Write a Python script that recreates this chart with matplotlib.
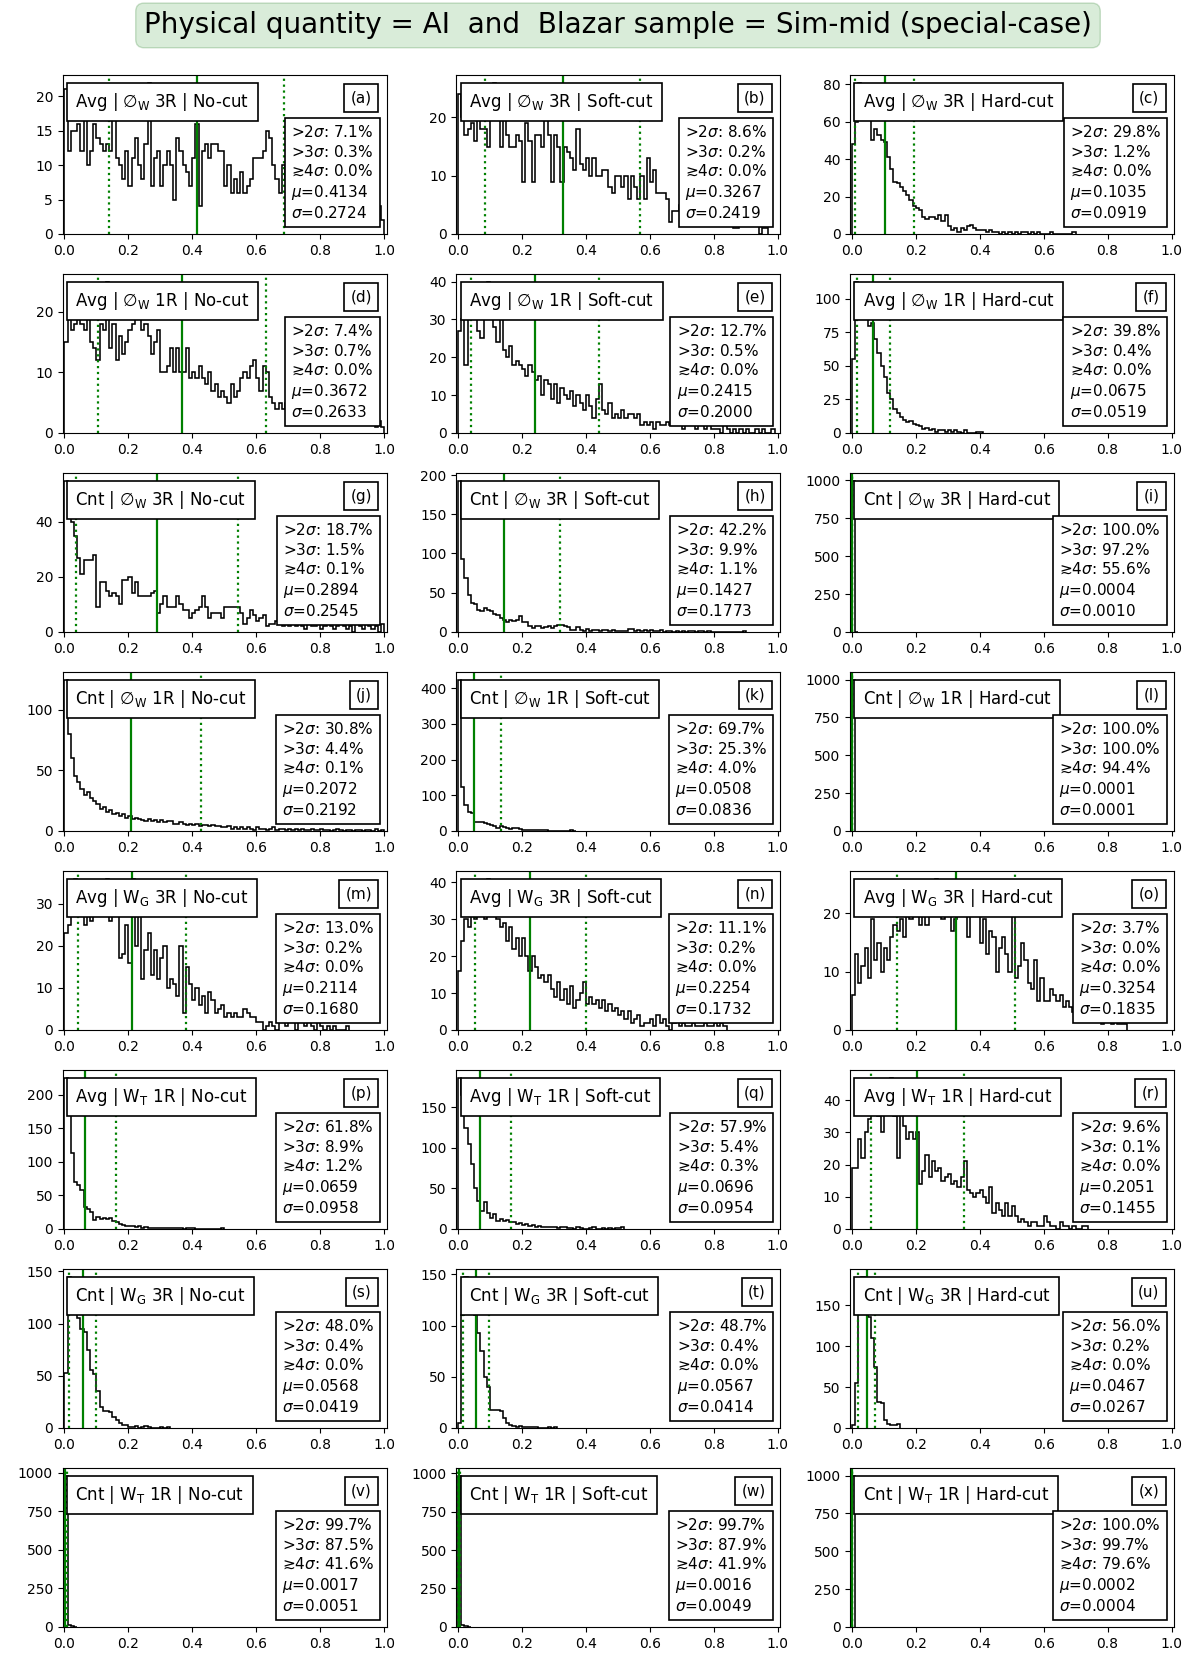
import numpy as np
import matplotlib
matplotlib.use("Agg")
import matplotlib.pyplot as plt

# bin counts per panel, bin width 0.01 starting at 0 (trailing empty bins left out)
counts_a = [21, 12, 15, 15, 16, 12, 18, 10, 12, 16, 14, 13, 12, 13, 12, 17, 11, 10, 8, 12,
            7, 11, 14, 10, 8, 13, 22, 7, 11, 12, 7, 10, 12, 10, 5, 14, 12, 10, 9, 7,
            11, 16, 4, 12, 13, 11, 13, 13, 12, 12, 7, 10, 6, 8, 6, 9, 6, 7, 8, 11,
            11, 11, 12, 15, 14, 10, 8, 6, 10, 8, 7, 9, 6, 8, 7, 9, 8, 6, 7, 8,
            6, 7, 5, 8, 6, 7, 5, 6, 7, 5, 6, 5, 7, 6, 5, 7, 6, 5, 4, 2]
counts_b = [24, 20, 17, 18, 19, 16, 21, 18, 18, 15, 21, 26, 21, 15, 20, 17, 15, 15, 17, 16,
            9, 19, 16, 9, 17, 17, 15, 20, 17, 9, 17, 15, 9, 15, 14, 13, 11, 18, 12, 11,
            13, 10, 13, 10, 10, 11, 11, 8, 7, 10, 10, 8, 10, 6, 10, 8, 6, 10, 6, 13,
            9, 11, 7, 7, 7, 6, 2, 4, 4, 5, 4, 3, 5, 4, 3, 4, 3, 5, 6, 2,
            3, 2, 3, 2, 3, 2, 1, 1, 3, 3, 2, 3, 2, 3, 0, 1, 1]
counts_c = [48, 60, 81, 75, 70, 65, 50, 56, 53, 50, 49, 41, 35, 28, 27, 25, 23, 21, 18, 15,
            14, 13, 9, 8, 9, 9, 8, 10, 7, 10, 4, 2, 3, 1, 3, 2, 4, 5, 3, 2,
            2, 2, 1, 2, 1, 1, 0, 1, 0, 1, 0, 1, 0, 1, 1, 0, 1, 0, 1, 0,
            0, 0, 1, 0, 0, 0, 0, 0, 0, 1]
counts_d = [15, 19, 17, 18, 20, 18, 17, 20, 15, 14, 12, 18, 17, 25, 14, 18, 12, 16, 13, 15,
            17, 18, 19, 20, 17, 18, 16, 13, 15, 17, 10, 10, 11, 14, 10, 14, 10, 10, 14, 9,
            10, 9, 11, 9, 8, 10, 7, 8, 6, 7, 6, 5, 8, 6, 7, 9, 10, 9, 11, 12,
            9, 7, 11, 10, 6, 5, 4, 5, 4, 5, 3, 4, 4, 3, 5, 3, 4, 3, 4, 3,
            3, 4, 2, 3, 3, 2, 3, 3, 2, 3, 2, 2, 3, 2, 2, 2, 2, 1, 2, 1]
counts_e = [27, 30, 18, 30, 33, 30, 27, 25, 30, 40, 30, 28, 24, 30, 22, 20, 23, 18, 19, 18,
            17, 15, 18, 16, 14, 15, 10, 14, 13, 9, 13, 8, 12, 10, 9, 11, 7, 10, 8, 6,
            10, 7, 4, 9, 13, 6, 5, 8, 4, 5, 4, 6, 4, 5, 5, 4, 5, 2, 3, 2,
            3, 1, 3, 2, 2, 3, 2, 2, 3, 2, 1, 2, 2, 3, 1, 2, 2, 1, 2, 1,
            1, 1, 0, 2, 1, 0, 1, 0, 1, 0, 1, 0, 0, 1, 0, 1, 0, 0, 1]
counts_f = [55, 113, 110, 95, 85, 80, 82, 70, 60, 50, 42, 30, 25, 18, 15, 12, 10, 8, 9, 7,
            6, 5, 3, 4, 2, 3, 1, 2, 2, 1, 2, 1, 2, 1, 0, 2, 0, 0, 0, 1, 1]
counts_g = [55, 45, 40, 35, 27, 21, 26, 26, 26, 28, 9, 18, 18, 15, 13, 14, 13, 10, 19, 19,
            20, 14, 18, 13, 13, 13, 13, 14, 15, 7, 10, 13, 9, 9, 9, 13, 10, 8, 8, 5,
            7, 8, 9, 13, 9, 5, 7, 7, 7, 5, 9, 9, 9, 9, 9, 7, 3, 5, 8, 6,
            4, 5, 6, 2, 3, 3, 4, 3, 2, 3, 2, 3, 2, 3, 2, 1, 3, 2, 2, 3,
            1, 2, 3, 2, 1, 2, 3, 2, 1, 2, 0, 3, 2, 1, 3, 2, 1, 2, 0, 3]
counts_h = [193, 93, 69, 47, 37, 35, 28, 27, 30, 28, 27, 23, 22, 18, 15, 13, 15, 14, 15, 20,
            13, 13, 8, 5, 7, 7, 5, 6, 7, 5, 8, 9, 9, 8, 6, 3, 2, 6, 2, 1,
            4, 1, 2, 2, 1, 2, 2, 1, 2, 1, 1, 1, 1, 4, 4, 1, 3, 1, 2, 1,
            2, 1, 1, 2, 0, 1, 1, 0, 1, 0, 1, 0, 1, 1, 0, 1, 1, 0, 1, 0,
            0, 0, 0, 0, 0, 0, 0, 0, 0, 1]
counts_i = [999, 1]
counts_j = [125, 80, 60, 45, 40, 35, 30, 32, 27, 25, 22, 18, 20, 16, 17, 14, 15, 12, 14, 11,
            12, 10, 11, 10, 9, 8, 10, 8, 9, 7, 9, 7, 8, 8, 6, 6, 7, 6, 5, 6,
            5, 6, 4, 5, 5, 4, 5, 4, 4, 3, 3, 4, 2, 3, 2, 3, 2, 3, 2, 1,
            3, 2, 2, 1, 2, 3, 1, 2, 2, 1, 2, 1, 2, 1, 2, 1, 1, 2, 1, 1,
            2, 1, 1, 0, 1, 2, 1, 0, 1, 1, 0, 1, 1, 0, 1, 1, 0, 2, 0, 1]
counts_k = [424, 124, 74, 52, 50, 24, 24, 24, 22, 20, 18, 14, 8, 13, 10, 8, 5, 7, 8, 6,
            3, 3, 2, 3, 2, 2, 2, 3, 1, 1, 0, 1, 0, 0, 0, 2, 1]
counts_l = [1000]
counts_m = [23, 25, 30, 36, 30, 27, 25, 28, 26, 30, 27, 29, 27, 36, 26, 35, 29, 17, 18, 25,
            16, 36, 20, 30, 12, 19, 23, 13, 19, 12, 17, 20, 10, 12, 11, 8, 20, 4, 15, 11,
            7, 10, 6, 8, 4, 9, 7, 4, 5, 6, 3, 4, 3, 4, 3, 3, 5, 4, 3, 3,
            2, 2, 0, 1, 2, 1, 0, 2, 3, 1, 2, 3, 0, 3, 2, 1, 3, 1, 0, 2,
            1, 0, 1, 0, 1, 0, 0, 0, 1]
counts_n = [16, 24, 30, 28, 33, 30, 40, 35, 30, 41, 33, 31, 30, 28, 29, 24, 28, 22, 25, 20,
            25, 20, 16, 20, 17, 14, 15, 13, 15, 11, 9, 13, 8, 11, 7, 12, 6, 8, 10, 13,
            7, 9, 7, 8, 6, 8, 5, 7, 5, 6, 4, 5, 3, 5, 2, 3, 4, 1, 2, 2,
            3, 1, 4, 2, 3, 1, 0, 2, 3, 1, 2, 1, 1, 2, 1, 1, 1, 2, 1, 1,
            2, 1, 2, 1]
counts_o = [6, 13, 8, 11, 14, 9, 19, 12, 15, 10, 14, 12, 16, 18, 17, 19, 16, 22, 19, 20,
            24, 18, 22, 18, 20, 22, 26, 20, 19, 24, 21, 17, 19, 20, 21, 20, 16, 20, 25, 20,
            15, 19, 13, 17, 16, 10, 14, 16, 13, 10, 20, 9, 11, 15, 12, 8, 7, 12, 5, 9,
            5, 5, 7, 6, 5, 6, 4, 5, 4, 3, 5, 2, 4, 3, 2, 3, 2, 3, 1, 2,
            2, 1, 2, 1, 1, 1]
counts_p = [226, 170, 114, 70, 65, 58, 32, 30, 26, 13, 18, 15, 16, 15, 16, 12, 10, 7, 6, 5,
            4, 5, 3, 4, 2, 3, 2, 2, 1, 2, 2, 1, 2, 1, 2, 1, 1, 0, 1, 1,
            1, 0, 0, 0, 0, 0, 0, 0, 0, 1]
counts_q = [187, 165, 125, 105, 80, 50, 35, 22, 33, 20, 14, 18, 10, 12, 10, 11, 9, 8, 6, 7,
            5, 6, 4, 5, 3, 4, 3, 2, 3, 2, 3, 1, 2, 2, 1, 1, 0, 2, 1, 0,
            0, 1, 2, 0, 0, 1, 0, 1, 0, 1, 1, 2]
counts_r = [19, 19, 28, 22, 30, 34, 36, 40, 35, 30, 40, 36, 47, 35, 22, 36, 32, 28, 30, 28,
            30, 14, 18, 23, 16, 21, 18, 19, 15, 16, 17, 14, 15, 13, 16, 21, 12, 11, 10, 11,
            12, 10, 8, 13, 5, 8, 6, 4, 8, 4, 7, 4, 2, 3, 2, 1, 2, 2, 1, 1,
            4, 2, 1, 1, 0, 2, 1, 1, 0, 1, 0, 0, 1, 1]
counts_s = [53, 145, 130, 115, 105, 95, 92, 75, 55, 52, 35, 20, 16, 16, 15, 10, 8, 5, 3, 3,
            1, 1, 2, 0, 1, 2, 1, 0, 0, 0, 1, 0, 1]
counts_t = [5, 110, 148, 140, 120, 110, 93, 75, 50, 40, 18, 18, 18, 17, 10, 5, 3, 2, 1, 2,
            1, 1, 1, 1, 1, 0, 0, 0, 1, 0, 1]
counts_u = [3, 55, 183, 185, 150, 135, 110, 75, 32, 30, 10, 5, 3, 4, 5]
counts_v = [983, 12, 4, 1]
counts_w = [985, 10, 4, 1]
counts_x = [1000]

all_counts = [counts_a, counts_b, counts_c, counts_d, counts_e, counts_f,
              counts_g, counts_h, counts_i, counts_j, counts_k, counts_l,
              counts_m, counts_n, counts_o, counts_p, counts_q, counts_r,
              counts_s, counts_t, counts_u, counts_v, counts_w, counts_x]

row_labels = [r'Avg | $\varnothing_{\rm W}$ 3R', r'Avg | $\varnothing_{\rm W}$ 1R',
              r'Cnt | $\varnothing_{\rm W}$ 3R', r'Cnt | $\varnothing_{\rm W}$ 1R',
              r'Avg | W$_{\rm G}$ 3R', r'Avg | W$_{\rm T}$ 1R',
              r'Cnt | W$_{\rm G}$ 3R', r'Cnt | W$_{\rm T}$ 1R']
cuts = ['No-cut', 'Soft-cut', 'Hard-cut']
tags = list('abcdefghijklmnopqrstuvwx')

gt2 = [7.1, 8.6, 29.8, 7.4, 12.7, 39.8, 18.7, 42.2, 100.0, 30.8, 69.7, 100.0,
       13.0, 11.1, 3.7, 61.8, 57.9, 9.6, 48.0, 48.7, 56.0, 99.7, 99.7, 100.0]
gt3 = [0.3, 0.2, 1.2, 0.7, 0.5, 0.4, 1.5, 9.9, 97.2, 4.4, 25.3, 100.0,
       0.2, 0.2, 0.0, 8.9, 5.4, 0.1, 0.4, 0.4, 0.2, 87.5, 87.9, 99.7]
gt4 = [0.0, 0.0, 0.0, 0.0, 0.0, 0.0, 0.1, 1.1, 55.6, 0.1, 4.0, 94.4,
       0.0, 0.0, 0.0, 1.2, 0.3, 0.0, 0.0, 0.0, 0.0, 41.6, 41.9, 79.6]
mus = [0.4134, 0.3267, 0.1035, 0.3672, 0.2415, 0.0675, 0.2894, 0.1427, 0.0004,
       0.2072, 0.0508, 0.0001, 0.2114, 0.2254, 0.3254, 0.0659, 0.0696, 0.2051,
       0.0568, 0.0567, 0.0467, 0.0017, 0.0016, 0.0002]
sigmas = [0.2724, 0.2419, 0.0919, 0.2633, 0.2000, 0.0519, 0.2545, 0.1773, 0.0010,
          0.2192, 0.0836, 0.0001, 0.1680, 0.1732, 0.1835, 0.0958, 0.0954, 0.1455,
          0.0419, 0.0414, 0.0267, 0.0051, 0.0049, 0.0004]

title = 'Physical quantity = AI  and  Blazar sample = Sim-mid (special-case)'

fig, axes = plt.subplots(8, 3, figsize=(12, 16.62), dpi=100)
fig.subplots_adjust(left=0.0523, right=0.9783, top=0.9549, bottom=0.0211,
                    wspace=0.216, hspace=0.2516)

def box(pad):
    return dict(boxstyle='square,pad=%g' % pad, facecolor='white', edgecolor='black', lw=1.2)

for n, ax in enumerate(axes.flat):
    r, c = divmod(n, 3)
    cnt = all_counts[n]
    edges = np.arange(len(cnt) + 1) * 0.01
    ax.stairs(cnt, edges, color='black', lw=1.15, baseline=0)
    mu, sd = mus[n], sigmas[n]
    ax.axvline(mu, color='green', lw=1.6)
    ax.axvline(mu - sd, color='green', lw=1.6, ls=':')
    ax.axvline(mu + sd, color='green', lw=1.6, ls=':')
    ax.set_xlim(-0.005, 1.0075)
    ax.set_xticks([0.0, 0.2, 0.4, 0.6, 0.8, 1.0])

    ax.text(0.039, 0.90, row_labels[r] + ' | ' + cuts[c], transform=ax.transAxes,
            fontsize=12, ha='left', va='top', bbox=box(0.5), zorder=10)
    ax.text(0.955, 0.90, '(%s)' % tags[n], transform=ax.transAxes,
            fontsize=11, ha='right', va='top', bbox=box(0.42), zorder=10)
    stats = ('>2$\\sigma$: %.1f%%\n>3$\\sigma$: %.1f%%\n\u22734$\\sigma$: %.1f%%\n'
             '$\\mu$=%.4f\n$\\sigma$=%.4f') % (gt2[n], gt3[n], gt4[n], mu, sd)
    ax.text(0.96, 0.69, stats, transform=ax.transAxes, fontsize=11, linespacing=1.27,
            ha='right', va='top', multialignment='left', bbox=box(0.4), zorder=10)

fig.text(0.515, 0.9847, title, ha='center', va='center', fontsize=20,
         bbox=dict(boxstyle='round,pad=0.3', facecolor=(0, 0.5, 0, 0.15),
                   edgecolor=(0, 0.4, 0, 0.2)))

fig.savefig('out.png', dpi=100)
